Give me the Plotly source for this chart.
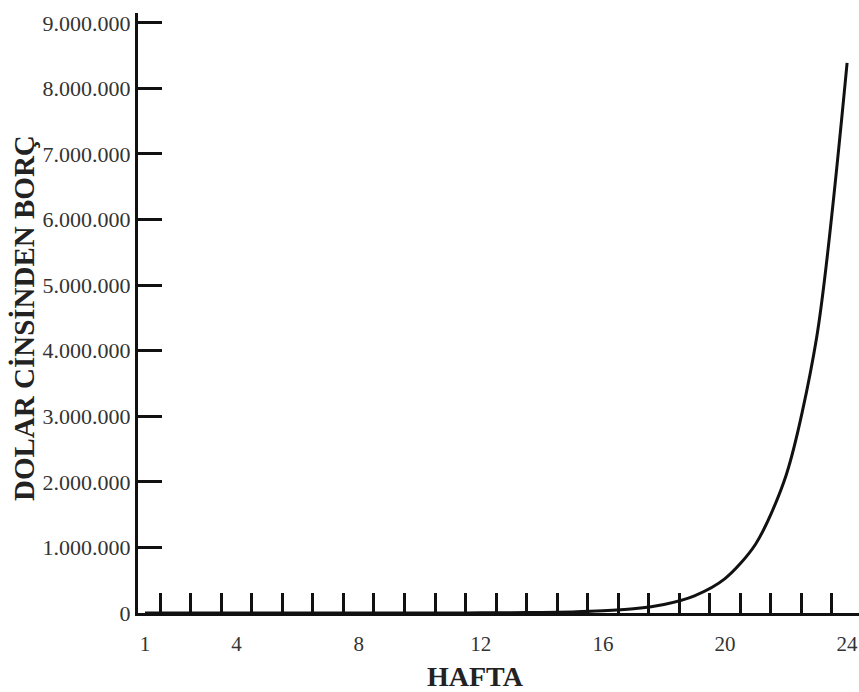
import plotly.graph_objects as go

weeks = list(range(1, 25))
debt = [1, 2, 4, 8, 16, 32, 64, 128, 256, 512, 1024, 2048, 4096, 8192, 16384,
        32768, 65536, 131072, 262144, 524288, 1048576, 2097152, 4194304, 8388608]

x_tick_vals = [1, 4, 8, 12, 16, 20, 24]
y_tick_vals = [0, 1000000, 2000000, 3000000, 4000000, 5000000, 6000000, 7000000, 8000000, 9000000]
y_tick_text = ["0", "1.000.000", "2.000.000", "3.000.000", "4.000.000", "5.000.000",
               "6.000.000", "7.000.000", "8.000.000", "9.000.000"]
x_title = "HAFTA"
y_title = "DOLAR CİNSİNDEN BORÇ"

FONT = "Liberation Serif"

W, H = 859, 692
L, T, B = 138, 13, 79
PW, PH = W - L, H - T - B

fig = go.Figure()
fig.add_trace(go.Scatter(x=weeks, y=debt, mode="lines",
                         line=dict(color="#111111", width=3, shape="spline", smoothing=0.8),
                         hoverinfo="skip"))

fig.update_layout(
    width=W, height=H,
    margin=dict(l=L, r=0, t=T, b=B, autoexpand=False),
    paper_bgcolor="white", plot_bgcolor="white",
    showlegend=False,
    xaxis=dict(range=[0.77, 24.39], tickvals=x_tick_vals, ticks="",
               showgrid=False, zeroline=False,
               showline=True, linecolor="#111111", linewidth=3,
               tickfont=dict(family=FONT, size=21, color="#333333"),
               ticklabelstandoff=10,
               minor=dict(tick0=0.5, dtick=1, ticks="inside", ticklen=20,
                          tickwidth=3, tickcolor="#111111", showgrid=False)),
    yaxis=dict(range=[0, 9150000], tickvals=y_tick_vals, ticktext=y_tick_text,
               ticks="inside", ticklen=24, tickwidth=3, tickcolor="#111111",
               showgrid=False, zeroline=False,
               showline=True, linecolor="#111111", linewidth=3,
               tickfont=dict(family=FONT, size=22, color="#333333"),
               ticklabelstandoff=0),
    annotations=[
        dict(text="<b>" + x_title + "</b>", xref="paper", yref="paper",
             x=(475 - 138) / PW, y=-(676 - 613) / PH, showarrow=False,
             xanchor="center", yanchor="middle",
             font=dict(family=FONT, size=28, color="#222222")),
        dict(text="<b>" + y_title + "</b>", xref="paper", yref="paper",
             x=-(138 - 24) / PW, y=(613 - 318) / PH, showarrow=False,
             textangle=-90, xanchor="center", yanchor="middle",
             font=dict(family=FONT, size=29, color="#222222")),
    ],
)

fig.write_html(
    "out.html",
    config={"displayModeBar": False},
    post_script="document.body.style.margin='0';document.body.style.overflow='hidden';",
)
